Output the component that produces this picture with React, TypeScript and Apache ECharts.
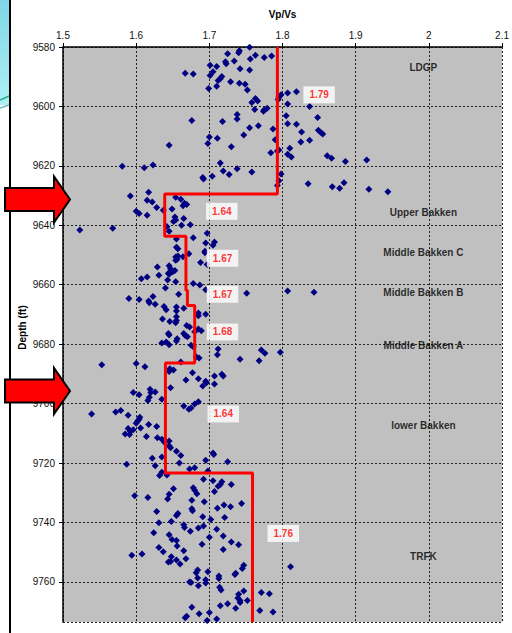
import React, { useEffect, useRef } from "react";
import * as echarts from "echarts";

const FONT = "'Liberation Sans', Arial, sans-serif";

// Axis ranges
const vpvsMin = 1.5;
const vpvsMax = 2.1;
const vpvsStep = 0.1;
const depthMin = 9580;
const depthMax = 9773.5;
const depthStep = 20;

// Scatter points [Vp/Vs, depth (ft)] by depth band
const pointsLDGP: [number, number][] = [
  [1.755, 9580.1], [1.741, 9581.3], [1.740, 9581.9], [1.725, 9582.3], [1.763, 9582.8],
  [1.756, 9584.0], [1.775, 9583.5], [1.785, 9583.0], [1.722, 9585.0], [1.723, 9585.6],
  [1.734, 9584.7], [1.701, 9586.1], [1.710, 9586.6], [1.705, 9588.3], [1.701, 9589.6],
  [1.742, 9587.3], [1.755, 9587.7], [1.667, 9588.8], [1.678, 9589.1], [1.717, 9589.9],
  [1.715, 9590.7], [1.712, 9591.3], [1.729, 9591.7], [1.741, 9592.2], [1.749, 9592.5],
  [1.752, 9594.5], [1.710, 9593.2], [1.699, 9594.0], [1.758, 9598.7], [1.763, 9597.3],
  [1.766, 9598.2], [1.762, 9601.0], [1.774, 9601.6], [1.775, 9601.1], [1.779, 9600.6],
  [1.795, 9596.9], [1.794, 9597.7], [1.798, 9596.1], [1.807, 9595.5], [1.819, 9595.1],
  [1.807, 9599.2], [1.837, 9600.0], [1.676, 9604.7], [1.718, 9605.1], [1.738, 9602.7],
  [1.738, 9604.2], [1.755, 9607.2], [1.767, 9606.5], [1.787, 9607.6], [1.805, 9603.1],
  [1.807, 9605.8], [1.819, 9606.0], [1.826, 9608.6], [1.848, 9603.7], [1.849, 9608.0],
  [1.852, 9608.7], [1.855, 9609.3], [1.700, 9610.3], [1.711, 9610.7], [1.698, 9612.5],
  [1.747, 9609.6], [1.730, 9613.6], [1.645, 9613.1], [1.790, 9611.2], [1.793, 9615.0],
  [1.784, 9615.6], [1.795, 9614.7], [1.825, 9612.0], [1.837, 9611.4], [1.810, 9614.1],
  [1.807, 9616.1], [1.812, 9617.0], [1.861, 9616.6], [1.867, 9617.4], [1.886, 9618.5],
  [1.915, 9618.0], [1.581, 9620.1], [1.611, 9620.6], [1.623, 9619.7], [1.715, 9619.0],
  [1.719, 9621.7], [1.727, 9622.9], [1.738, 9621.0], [1.758, 9622.1], [1.691, 9623.9],
  [1.692, 9624.4], [1.704, 9623.5], [1.798, 9622.7], [1.795, 9625.0], [1.793, 9626.6],
  [1.835, 9626.0], [1.868, 9627.0], [1.878, 9627.5], [1.884, 9625.7], [1.918, 9627.9],
  [1.944, 9628.7],
];

const pointsUpperMiddle: [number, number][] = [
  [1.592, 9630.1], [1.617, 9628.9], [1.654, 9630.6], [1.661, 9631.2], [1.615, 9631.6],
  [1.622, 9632.2], [1.666, 9632.6], [1.664, 9633.4], [1.669, 9633.0], [1.628, 9634.0],
  [1.649, 9634.5], [1.637, 9634.9], [1.600, 9635.3], [1.604, 9636.0], [1.615, 9636.6],
  [1.653, 9637.2], [1.654, 9638.2], [1.651, 9638.7], [1.665, 9637.7], [1.642, 9640.4],
  [1.645, 9642.0], [1.662, 9640.0], [1.674, 9639.8], [1.523, 9641.6], [1.568, 9641.0],
  [1.697, 9642.7], [1.678, 9644.2], [1.655, 9644.6], [1.695, 9646.0], [1.707, 9645.6],
  [1.705, 9646.7], [1.655, 9647.4], [1.657, 9647.9], [1.694, 9648.7], [1.694, 9649.2],
  [1.672, 9649.6], [1.657, 9650.3], [1.664, 9650.6], [1.654, 9650.7], [1.654, 9651.8],
  [1.656, 9651.4], [1.688, 9652.5], [1.697, 9653.2], [1.645, 9653.6], [1.647, 9654.6],
  [1.650, 9655.6], [1.645, 9656.5], [1.653, 9655.2], [1.644, 9656.1], [1.629, 9654.0],
  [1.631, 9656.8], [1.615, 9657.4], [1.607, 9658.0], [1.643, 9658.4], [1.654, 9659.0],
  [1.678, 9659.6], [1.687, 9660.1], [1.640, 9661.1], [1.695, 9661.7], [1.751, 9662.9],
  [1.807, 9662.1], [1.843, 9662.5], [1.590, 9664.6], [1.604, 9665.0], [1.617, 9665.5],
  [1.618, 9666.1], [1.623, 9664.0], [1.626, 9666.6], [1.658, 9663.2], [1.638, 9667.3],
  [1.641, 9668.4], [1.655, 9667.5], [1.655, 9668.8], [1.665, 9667.9], [1.685, 9669.5],
  [1.685, 9670.4], [1.695, 9669.9], [1.636, 9671.5], [1.655, 9670.8], [1.655, 9672.0],
  [1.654, 9672.8], [1.646, 9672.4], [1.669, 9673.7], [1.673, 9674.2], [1.685, 9674.9],
  [1.689, 9675.5], [1.680, 9675.8], [1.644, 9676.4], [1.665, 9676.4],
];

const pointsMiddleLower: [number, number][] = [
  [1.645, 9676.9], [1.656, 9678.2], [1.655, 9678.9], [1.667, 9677.1], [1.670, 9677.5],
  [1.635, 9679.6], [1.641, 9679.3], [1.645, 9680.2], [1.675, 9680.4], [1.678, 9680.9],
  [1.682, 9684.2], [1.686, 9684.7], [1.712, 9681.6], [1.711, 9683.6], [1.742, 9685.1],
  [1.771, 9682.0], [1.776, 9683.1], [1.768, 9685.6], [1.797, 9682.7], [1.553, 9686.9],
  [1.600, 9686.5], [1.612, 9687.6], [1.661, 9686.0], [1.646, 9688.3], [1.651, 9688.7],
  [1.645, 9689.2], [1.677, 9689.6], [1.668, 9692.1], [1.685, 9691.6], [1.695, 9692.5],
  [1.696, 9693.0], [1.691, 9694.1], [1.707, 9690.7], [1.707, 9693.4], [1.717, 9690.1],
  [1.719, 9690.7], [1.647, 9694.7], [1.619, 9695.2], [1.626, 9696.1], [1.620, 9696.3],
  [1.596, 9696.3], [1.604, 9697.0], [1.618, 9697.9], [1.616, 9699.0], [1.635, 9698.5],
  [1.665, 9700.8], [1.672, 9701.9], [1.675, 9701.5], [1.680, 9700.1], [1.685, 9699.4],
  [1.539, 9703.5], [1.572, 9702.8], [1.579, 9702.3], [1.589, 9703.9], [1.602, 9705.9],
  [1.605, 9704.6], [1.604, 9705.3], [1.600, 9706.6], [1.617, 9707.0], [1.628, 9707.7],
  [1.606, 9708.2], [1.589, 9708.4], [1.592, 9709.3], [1.596, 9708.8], [1.585, 9710.2],
  [1.591, 9710.4], [1.614, 9711.1], [1.629, 9711.5], [1.635, 9712.0], [1.639, 9713.1],
  [1.645, 9712.6], [1.647, 9714.9], [1.645, 9714.2], [1.655, 9716.0], [1.661, 9717.5],
  [1.705, 9716.6], [1.706, 9717.1], [1.725, 9719.6], [1.695, 9719.1], [1.659, 9720.0],
  [1.622, 9718.4], [1.626, 9720.9], [1.635, 9718.0], [1.587, 9720.4], [1.673, 9722.0],
  [1.680, 9721.6], [1.698, 9722.7], [1.635, 9723.1], [1.632, 9724.2], [1.642, 9724.0],
];

const pointsTRFK: [number, number][] = [
  [1.692, 9725.5], [1.705, 9726.0], [1.717, 9726.3], [1.715, 9727.2], [1.712, 9727.8],
  [1.730, 9727.2], [1.678, 9728.3], [1.680, 9729.2], [1.683, 9730.3], [1.651, 9728.7],
  [1.645, 9730.5], [1.643, 9732.1], [1.598, 9731.0], [1.616, 9731.6], [1.707, 9729.6],
  [1.676, 9732.5], [1.693, 9733.0], [1.744, 9733.6], [1.720, 9734.1], [1.711, 9735.2],
  [1.729, 9734.7], [1.676, 9735.4], [1.677, 9736.1], [1.628, 9736.3], [1.657, 9737.0],
  [1.655, 9737.7], [1.691, 9738.1], [1.702, 9739.0], [1.721, 9738.3], [1.648, 9739.7],
  [1.631, 9740.1], [1.665, 9740.8], [1.666, 9741.7], [1.674, 9743.0], [1.685, 9741.9],
  [1.692, 9741.2], [1.710, 9742.3], [1.624, 9743.5], [1.645, 9744.1], [1.649, 9745.7],
  [1.655, 9746.1], [1.656, 9747.9], [1.665, 9749.5], [1.700, 9745.0], [1.719, 9744.6],
  [1.690, 9747.3], [1.730, 9746.6], [1.740, 9747.5], [1.719, 9749.1], [1.631, 9748.4],
  [1.637, 9749.9], [1.594, 9751.0], [1.608, 9750.6], [1.648, 9751.5], [1.647, 9753.1],
  [1.644, 9753.3], [1.655, 9752.6], [1.660, 9754.0], [1.668, 9752.2], [1.747, 9754.4],
  [1.745, 9755.5], [1.736, 9757.1], [1.735, 9757.5], [1.811, 9754.9], [1.684, 9756.0],
  [1.682, 9756.9], [1.698, 9756.6], [1.713, 9758.0], [1.713, 9758.9], [1.684, 9758.7],
  [1.695, 9759.3], [1.695, 9760.4], [1.673, 9760.0], [1.675, 9760.2], [1.685, 9761.3],
  [1.714, 9761.8], [1.716, 9762.7], [1.747, 9763.1], [1.740, 9764.2], [1.739, 9765.4],
  [1.742, 9766.3], [1.742, 9766.9], [1.752, 9766.3], [1.771, 9763.6], [1.782, 9764.0],
  [1.725, 9767.4], [1.715, 9768.0], [1.736, 9768.9], [1.769, 9769.6], [1.787, 9770.1],
  [1.676, 9768.5], [1.686, 9770.7], [1.700, 9770.3], [1.669, 9771.6], [1.667, 9772.1],
  [1.697, 9773.0], [1.710, 9772.5],
];

// Red step line (zone averages)
const stepVpVs = [1.793, 1.793, 1.639, 1.639, 1.668, 1.668, 1.670, 1.670, 1.680, 1.680, 1.640, 1.640, 1.759, 1.759];
const stepDepth = [9580, 9629.5, 9629.5, 9643.7, 9643.7, 9661.9, 9661.9, 9667.0, 9667.0, 9686.3, 9686.3, 9723.4, 9723.4, 9773.5];

// Average value labels
const avgLabels = ["1.79", "1.64", "1.67", "1.67", "1.68", "1.64", "1.76"];
const avgLabelVpVs = [1.850, 1.717, 1.718, 1.718, 1.718, 1.719, 1.801];
const avgLabelDepth = [9596.1, 9635.3, 9651.1, 9663.2, 9675.9, 9703.5, 9743.7];

// Zone names
const zoneNames = ["LDGP", "Upper Bakken", "Middle Bakken C", "Middle Bakken B", "Middle Bakken A", "lower Bakken", "TRFK"];
const zoneVpVs = [1.9925, 1.9925, 1.9925, 1.9925, 1.9925, 1.9925, 1.9925];
const zoneDepth = [9587.0, 9635.8, 9649.3, 9662.7, 9680.6, 9707.5, 9751.6];

function arrow(tipX: number, tipY: number) {
  return {
    type: "polygon",
    z: 100,
    shape: {
      points: [
        [5, tipY - 11.5], [54, tipY - 11.5], [54, tipY - 23], [tipX, tipY],
        [54, tipY + 23], [54, tipY + 11.5], [5, tipY + 11.5],
      ],
    },
    style: { fill: "#FF0000", stroke: "#000", lineWidth: 2 },
  };
}

export default function App() {
  const ref = useRef<HTMLDivElement>(null);
  useEffect(() => {
    if (!ref.current) return;
    const chart = echarts.init(ref.current, undefined, { renderer: "svg" });
    const allPoints = [...pointsLDGP, ...pointsUpperMiddle, ...pointsMiddleLower, ...pointsTRFK];
    chart.setOption({
      animation: false,
      backgroundColor: "#fff",
      textStyle: { fontFamily: FONT },
      grid: {
        left: 63, right: 8, top: 47, bottom: 11,
        show: true, backgroundColor: "#C0C0C0", borderWidth: 0,
      },
      xAxis: {
        type: "value", position: "top",
        min: vpvsMin, max: vpvsMax, interval: vpvsStep,
        name: "Vp/Vs", nameLocation: "middle", nameGap: 28, nameMoveOverlap: false,
        nameTextStyle: { fontWeight: "bold", fontSize: 10, color: "#000", fontFamily: FONT },
        axisLine: { show: true, onZero: false, lineStyle: { color: "#000", width: 1.5 } },
        axisTick: { show: true, length: 4, lineStyle: { color: "#000" } },
        axisLabel: { fontSize: 10, color: "#111", margin: 7, fontFamily: FONT },
        splitLine: { show: true, lineStyle: { color: "#222", type: [2, 2], width: 1 } },
      },
      yAxis: {
        type: "value", inverse: true,
        min: depthMin, max: depthMax, interval: depthStep,
        name: "Depth (ft)", nameLocation: "middle", nameGap: 36, nameRotate: 90,
        nameMoveOverlap: false,
        nameTextStyle: {
          fontWeight: "bold", fontSize: 10, color: "#000", fontFamily: FONT,
          padding: [0, 0, 0, 14],
        },
        axisLine: { show: true, onZero: false, lineStyle: { color: "#000", width: 1.5 } },
        axisTick: { show: true, length: 4, lineStyle: { color: "#000" } },
        axisLabel: {
          fontSize: 10, color: "#111", margin: 8, fontFamily: FONT, showMaxLabel: false,
          formatter: (v: number) => (Math.abs(v % depthStep) < 1e-6 ? String(v) : ""),
        },
        splitLine: { show: true, lineStyle: { color: "#222", type: [2, 2], width: 1 } },
      },
      series: [
        {
          type: "scatter",
          data: allPoints,
          symbol: "diamond",
          symbolSize: 7,
          itemStyle: { color: "#000080", opacity: 1 },
          z: 2,
        },
        {
          type: "line",
          data: stepVpVs.map((v, i) => [v, stepDepth[i]]),
          showSymbol: false,
          symbol: "none",
          lineStyle: { color: "#FF0000", width: 3 },
          z: 3,
        },
        {
          type: "scatter",
          data: avgLabels.map((t, i) => ({ name: t, value: [avgLabelVpVs[i], avgLabelDepth[i]] })),
          symbolSize: 0,
          itemStyle: { color: "transparent" },
          label: {
            show: true, position: "inside", formatter: "{b}",
            color: "#FF0000", fontWeight: "bold", fontSize: 10, fontFamily: FONT,
            backgroundColor: "#fff", padding: [4, 6, 3, 6],
          },
          z: 5,
        },
        {
          type: "scatter",
          data: zoneNames.map((t, i) => ({ name: t, value: [zoneVpVs[i], zoneDepth[i]] })),
          symbolSize: 0,
          itemStyle: { color: "transparent" },
          label: {
            show: true, position: "inside", formatter: "{b}",
            color: "#000", fontWeight: "bold", fontSize: 10, fontFamily: FONT,
          },
          z: 5,
        },
      ],
      graphic: [
        {
          type: "rect", z: 50,
          shape: { x: 0, y: 0, width: 9, height: 105 },
          style: {
            fill: new echarts.graphic.LinearGradient(0, 0, 0, 1, [
              { offset: 0, color: "#7fd6e6" },
              { offset: 1, color: "#aef0f6" },
            ]),
          },
        },
        { type: "line", z: 51, shape: { x1: 0, y1: 100, x2: 9, y2: 96 }, style: { stroke: "#2aa98a", lineWidth: 1.5 } },
        { type: "line", z: 51, shape: { x1: 0, y1: 108, x2: 9, y2: 105 }, style: { stroke: "#6fb9c9", lineWidth: 1.5 } },
        { type: "line", z: 52, shape: { x1: 10, y1: 0, x2: 10, y2: 633 }, style: { stroke: "#000", lineWidth: 2 } },
        arrow(70, 199.5),
        arrow(70, 391),
      ],
    });
    return () => chart.dispose();
  }, []);
  return <div ref={ref} style={{ position: "absolute", left: 0, top: 0, width: 512, height: 633 }} />;
}
